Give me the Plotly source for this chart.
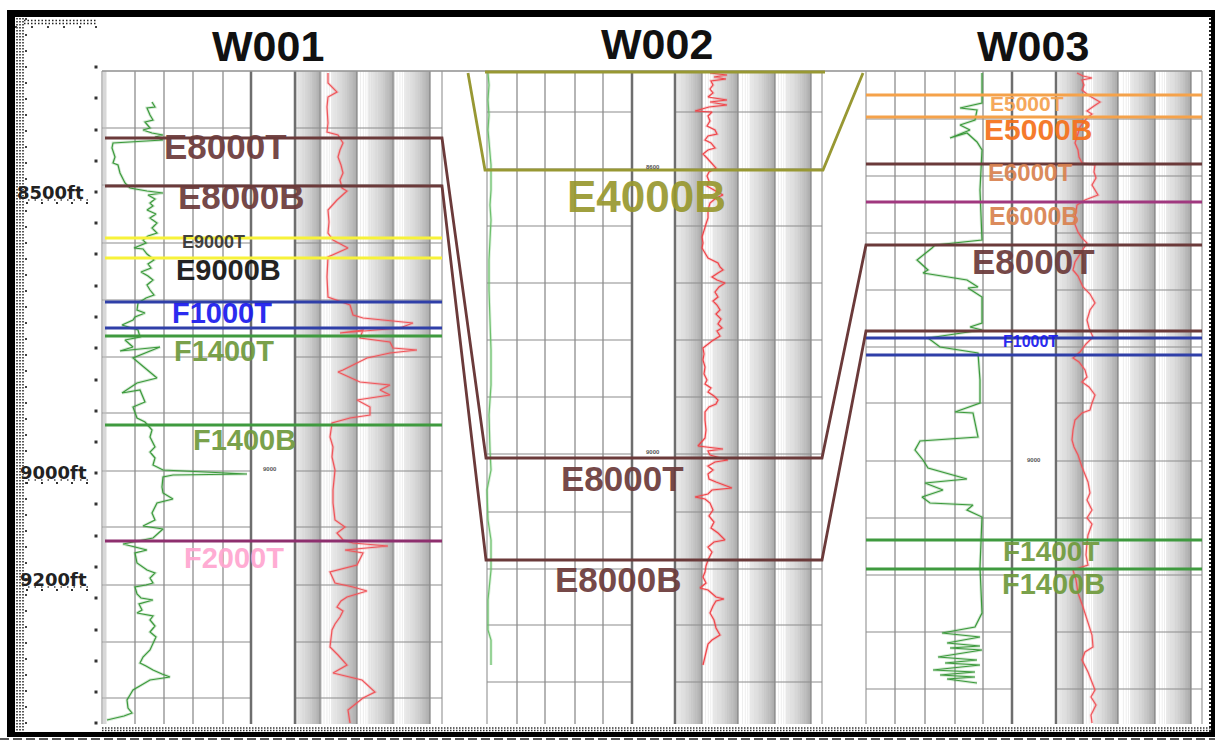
import math
import plotly.graph_objects as go

# ---------- data: log samples as (value position, depth position)
w001_gr = [(152,102),(155,107),(147,108),(150,115),(153,120),(145,122),(150,128),(143,130),(152,133),(163,135),(155,137),(163,140),(113,143),(112,148),(115,157),(113,163),(118,165),(120,173),(125,183),(130,188),(147,191),(163,193),(148,195),(155,199),(150,203),(153,206),(147,210),(156,214),(150,218),(157,223),(152,228),(157,233),(148,236),(143,240),(146,243),(134,248),(143,249),(147,254),(152,258),(154,260),(148,264),(151,268),(141,272),(148,276),(153,280),(147,285),(150,290),(154,295),(146,298),(143,300),(138,303),(137,310),(145,313),(135,317),(133,320),(122,325),(138,330),(140,337),(125,340),(133,347),(120,351),(160,347),(133,358),(145,368),
(157,378),(137,383),(122,393),(140,390),(145,402),(133,407),(137,418),(145,422),(152,430),(150,437),(155,447),(150,452),(155,458),(153,465),(163,470),(247,474),(173,475),(163,477),(162,487),(163,493),(173,499),(157,503),(152,513),(155,520),(143,526),(163,529),(153,538),(123,544),(147,550),(135,553),(137,563),(147,570),(155,573),(150,578),(153,583),(146,585),(135,587),(137,594),(141,598),(153,600),(139,604),(142,610),(137,613),(153,616),(150,620),(155,626),(150,632),(156,637),(153,643),(150,650),(143,657),(140,663),(146,666),(153,670),(162,674),(170,677),(150,680),(143,684),(133,690),(130,695),(127,700),(128,708),(132,713),(124,716),(107,720)]
w001_res = [(328,73),(328,83),(337,92),(328,97),(327,107),(328,123),(327,132),(338,135),(343,143),(340,150),(338,157),(341,165),(343,173),(340,180),(342,188),(347,191),(337,200),(328,210),(329,222),(328,233),(333,240),(348,248),(328,257),(327,277),(328,297),(350,305),(353,315),(363,318),(413,323),(400,328),(340,333),(363,330),(360,338),(390,342),(393,348),(417,350),(390,353),(367,358),(343,370),
(338,372),(360,382),(390,385),(380,390),(390,395),(357,400),(370,407),(370,415),(350,418),(332,423),(330,437),(333,447),(332,457),(335,470),(333,490),(333,503),(335,520),(345,527),(337,533),(343,540),(353,543),(388,546),(345,550),(363,553),(357,565),(330,572),(335,583),(353,587),(367,591),(347,597),(341,601),(337,607),(343,611),(340,617),(335,624),(332,630),(330,647),(338,655),(347,665),(333,673),(362,680),(375,692),(363,698),(348,710),(350,723)]
w002_gr = [(488,73),(489,85),(488,100),(489,115),(488,130),(490,150),(491,165),(491,190),(490,205),(491,220),(489,260),(489,290),(490,320),(491,350),(491,385),(490,400),(489,415),(490,450),(491,470),(487,490),(488,520),(491,540),(491,570),(488,600),(488,630),(491,640),(491,665)]
w002_res = [(710,73),(727,75),(714,77),(726,79),(711,81),(713,85),(710,89),(713,93),(708,97),(727,100),(710,102),(727,105),(709,107),(695,111),(712,112),(708,116),(710,121),(707,126),(715,130),(717,134),(708,136),(705,140),(711,143),(715,148),(708,150),(703,154),(707,158),(712,163),(716,168),(709,172),(707,176),(709,181),(707,186),(714,190),(723,195),(716,198),(710,203),(708,210),(708,218),(706,224),(704,230),(702,237),(703,243),(702,248),(705,253),(708,258),(712,260),(718,263),(720,267),(723,270),(718,273),(712,277),(717,280),(725,283),(719,287),(715,292),(718,297),(713,301),(717,305),(720,310),(716,314),(721,319),(718,324),(722,328),(717,331),(720,336),(712,341),(703,348),(704,354),(703,360),(705,367),(704,374),(707,380),
(705,384),(711,388),(708,392),(714,396),(718,400),(716,404),(709,407),(705,412),(705,420),(706,430),(705,438),(698,446),(706,447),(723,449),(708,451),(710,455),(728,460),(715,462),(708,466),(713,470),(708,474),(709,479),(716,482),(732,488),(712,490),(708,494),(695,497),(705,499),(710,503),(713,510),(709,516),(714,522),(711,528),(718,533),(725,540),(714,542),(708,547),(712,552),(708,560),(706,566),(705,572),(703,577),(706,583),(700,588),(708,590),(712,594),(716,597),(724,599),(716,601),(713,606),(710,613),(714,620),(716,628),(720,635),(712,640),(708,644),(706,652),(704,658),(703,665)]
w003_gr = [(982,73),(982,103),(960,108),(977,110),(975,120),(960,125),(970,130),(950,138),(967,133),(977,142),(982,150),(980,190),(982,240),(935,245),(932,248),(917,260),(928,270),(923,273),(967,280),(978,287),(968,288),(982,297),(982,323),(970,327),(982,330),(928,338),(940,347),(978,353),(980,380),
(980,403),(955,412),(973,413),(978,437),(920,441),(915,450),(923,460),(928,468),(953,475),(967,479),(925,483),(943,490),(922,497),(930,503),(973,505),(967,510),(982,517),(980,567),(982,613),(975,627),(942,633),(980,637),(947,643),(980,646),(950,648),(982,650),(938,657),(977,660),(945,663),(980,665),(933,670),(975,672),(940,675),(975,677),(947,679),(977,683)]
w003_res = [(1077,73),(1083,76),(1092,78),(1082,80),(1084,85),(1082,90),(1088,95),(1100,102),(1094,106),(1087,111),(1092,114),(1087,118),(1080,127),(1078,133),(1075,143),(1078,150),(1079,157),(1082,163),(1095,165),(1094,172),(1096,178),(1092,185),(1098,195),(1085,200),(1077,205),(1076,212),(1074,222),(1078,232),(1082,238),(1087,243),(1084,248),(1079,255),(1075,262),(1073,270),(1078,276),(1083,287),(1090,294),(1095,303),(1090,310),(1087,320),(1089,328),(1093,337),(1086,344),(1080,352),(1073,358),(1079,362),(1085,370),(1087,377),
(1082,382),(1089,387),(1095,395),(1092,403),(1090,410),(1082,413),(1075,420),(1073,430),(1072,440),(1074,447),(1078,455),(1082,467),(1085,475),(1088,482),(1090,493),(1087,500),(1092,510),(1087,518),(1092,524),(1088,535),(1087,543),(1086,555),(1088,565),(1073,570),(1076,580),(1078,593),(1083,607),(1087,620),(1092,635),(1093,647),(1085,652),(1082,660),(1088,672),(1095,690),(1091,697),(1096,705),(1091,715),(1092,723)]

wells = ["W001", "W002", "W003"]
well_label_x = [268, 657, 1033]
well_label_y = [46, 44, 46]

tops = [
    (105, 442, 238, "#f7f23a"), (105, 442, 258, "#f7f23a"),
    (105, 442, 302, "#2f3fa8"), (105, 442, 328, "#2f3fa8"),
    (105, 442, 336, "#3f9a3f"), (105, 442, 425, "#3f9a3f"),
    (105, 442, 541, "#8e2f6e"),
    (866, 1202, 95, "#f5a24a"), (866, 1202, 117, "#f5a24a"),
    (866, 1202, 164, "#6b3a3a"), (866, 1202, 202, "#a0387f"),
    (866, 1202, 338, "#2f3fa8"), (866, 1202, 355, "#2f3fa8"),
    (866, 1202, 540, "#3f9a3f"), (866, 1202, 569, "#3f9a3f"),
]
correlations = [
    ([105, 442, 486, 822, 866, 1202], [138, 138, 458, 458, 245, 245], "#6b3a3a"),
    ([105, 442, 486, 822, 866, 1202], [186, 186, 560, 560, 331, 331], "#6b3a3a"),
    ([468, 485, 823, 863], [73, 170, 170, 73], "#989833"),
    ([485, 825], [72, 72], "#989833"),
]
labels = [
    ("E8000T", 225, 146, 35, "#6b3a3a"), ("E8000B", 241, 196, 35, "#6b3a3a"),
    ("E9000T", 213, 242, 18, "#333333"), ("E9000B", 228, 270, 29, "#111111"),
    ("F1000T", 222, 313, 29, "#1a1aee"), ("F1400T", 224, 351, 29, "#6f9a3c"),
    ("F1400B", 244, 440, 29, "#6f9a3c"), ("F2000T", 234, 558, 29, "#ffa6d0"),
    ("E4000B", 646, 196, 44, "#98982f"), ("E8000T", 622, 478, 35, "#6b3a3a"),
    ("E8000B", 618, 579, 35, "#6b3a3a"),
    ("E5000T", 1027, 103, 21, "#f5a14e"), ("E5000B", 1038, 129, 30, "#f5701a"),
    ("E6000T", 1030, 172, 24, "#d9824f"), ("E6000B", 1034, 216, 25, "#d9824f"),
    ("E8000T", 1033, 261, 35, "#6b3a3a"), ("F1000T", 1030, 341, 16, "#1a1aee"),
    ("F1400T", 1051, 551, 28, "#6f9a3c"), ("F1400B", 1053, 584, 29, "#6f9a3c"),
]
depth_labels = [("8500ft", 50, 192), ("9000ft", 53, 472), ("9200ft", 53, 579)]
depth_ticks = [67, 98, 130, 161, 192, 223, 254, 286, 317, 348, 380, 411, 442, 473, 504, 536, 567, 598, 630, 661, 692, 723]
small_labels = [("9000", 270, 469), ("8600", 653, 167), ("9000", 653, 452), ("9000", 1034, 460)]

track_left = [102, 487, 866]
track_linear = [[135, 164, 193, 223], [517, 545, 575, 603], [895, 925, 955, 983]]
track_dark = [(251, 295), (632, 675), (1012, 1056)]
track_right = [442, 822, 1202]
track_decades = [[320.5, 357, 393.5, 430], [702, 738, 775, 811], [1083, 1118, 1155, 1191]]
track_rows = [
    [128, 185, 243, 300, 357, 413, 471, 527, 585, 642, 698],
    [112, 169, 226, 283, 340, 397, 454, 512, 569, 625, 682],
    [119, 176, 233, 290, 347, 403, 461, 518, 575, 632, 689],
]
# log paper: a ruling at each mantissa of the decade
paper_mantissas = [1.25, 1.5, 1.75] + [m / 10 for m in range(20, 100)]
TOP, BOTTOM = 71, 724

fig = go.Figure()


def segs(pairs, color, width, dash=None):
    xs, ys = [], []
    for (x0, y0, x1, y1) in pairs:
        xs += [x0, x1, None]
        ys += [y0, y1, None]
    fig.add_trace(go.Scatter(x=xs, y=ys, mode="lines", hoverinfo="skip",
                             line=dict(color=color, width=width, dash=dash)))


for i in range(3):
    dec_w = track_decades[i][1] - track_decades[i][0]
    dl, dr = track_dark[i]
    v = []
    for end in track_decades[i]:
        for k in paper_mantissas:
            x = end - dec_w * (1 - math.log10(k))
            if x > dr:
                v.append((x, TOP, x, BOTTOM))
    segs(v, "rgba(90,90,90,0.10)", 1)
    segs([(end, TOP, end, BOTTOM) for end in track_decades[i]], "rgba(100,100,100,0.45)", 2)
    segs([(x, TOP, x, BOTTOM) for x in track_linear[i]], "rgba(150,150,150,0.7)", 2)
    segs([(track_left[i], TOP, track_left[i], BOTTOM), (track_right[i], TOP, track_right[i], BOTTOM)], "rgba(170,170,170,0.7)", 2)
    h = []
    for y in track_rows[i]:
        h.append((track_left[i], y, dl, y))
        h.append((dr, y, track_right[i], y))
    segs(h, "rgba(140,140,140,0.5)", 2)
    segs([(dl, TOP, dl, BOTTOM), (dr, TOP, dr, BOTTOM)], "#6e6e6e", 2.5)

segs([(104.5, TOP, 104.5, BOTTOM)], "rgba(190,190,190,0.6)", 4)
segs([(102, TOP, 1202, TOP)], "rgba(150,150,150,0.8)", 2)

for arr, col, halo in [(w001_gr, "#3c9a3c", "rgba(60,154,60,0.22)"), (w002_gr, "#6cc06c", "rgba(108,192,108,0.25)"),
                       (w003_gr, "#3c9a3c", "rgba(60,154,60,0.22)"),
                       (w001_res, "#f0555a", "rgba(240,85,90,0.22)"), (w002_res, "#f0454a", "rgba(240,69,74,0.22)"),
                       (w003_res, "#f0555a", "rgba(240,85,90,0.22)")]:
    xs, ys = [p[0] for p in arr], [p[1] for p in arr]
    fig.add_trace(go.Scatter(x=xs, y=ys, mode="lines", hoverinfo="skip", line=dict(color=halo, width=3)))
    fig.add_trace(go.Scatter(x=xs, y=ys, mode="lines", hoverinfo="skip", line=dict(color=col, width=1.2)))

for x0, x1, y, col in tops:
    segs([(x0, y, x1, y)], col, 3)
for xs, ys, col in correlations:
    fig.add_trace(go.Scatter(x=xs, y=ys, mode="lines", hoverinfo="skip", line=dict(color=col, width=2.8)))

# frame decoration
segs([(17, 18, 17, 732), (20, 18, 20, 732), (23, 18, 23, 732)], "#222222", 1.5, "1.5px,1.5px")
segs([(24, 20.5, 97, 20.5), (24, 23.5, 97, 23.5)], "#222222", 1.5, "1.5px,2px")
segs([(26, 18, 26, 732)], "#444444", 2, "2px,14px")
segs([(15, 27, 97, 27)], "#444444", 2, "2px,14px")
segs([(102, 728, 1211, 728), (102, 730.5, 1211, 730.5)], "#333333", 1.5, "1.5px,1.5px")
segs([(1210, 18, 1210, 732)], "#222222", 2, "2px,2px")
segs([(0, 739, 1215, 739)], "#222222", 1.5, "9px,4px")
for _, x, y in depth_labels:
    segs([(26, y + 11, 90, y + 11)], "#333333", 2, "2px,13px")
    segs([(28, y + 8, 90, y + 8)], "#444444", 1.5, "1.5px,5px")
fig.add_trace(go.Scatter(x=[96] * len(depth_ticks), y=depth_ticks, mode="markers", hoverinfo="skip",
                         marker=dict(color="#333333", size=3, symbol="square")))

ann = []
for name, x, y in zip(wells, well_label_x, well_label_y):
    ann.append(dict(text=f"<b>{name}</b>", x=x, y=y, font=dict(size=43, color="#111111", family="Liberation Sans")))
for t, x, y, s, c in labels:
    ann.append(dict(text=f"<b>{t}</b>", x=x, y=y, font=dict(size=s, color=c, family="Liberation Sans"), opacity=0.92))
for t, x, y in depth_labels:
    ann.append(dict(text=f"<b>{t}</b>", x=x, y=y, font=dict(size=18, color="#222222", family="DejaVu Sans")))
for t, x, y in small_labels:
    ann.append(dict(text=f"<b>{t}</b>", x=x, y=y, font=dict(size=6, color="#555555", family="Liberation Sans")))
for a in ann:
    a.update(xref="x", yref="y", showarrow=False, xanchor="center", yanchor="middle")

fig.update_layout(
    width=1215, height=740, margin=dict(l=0, r=0, t=0, b=0),
    paper_bgcolor="white", plot_bgcolor="white", showlegend=False,
    xaxis=dict(range=[0, 1215], visible=False, fixedrange=True),
    yaxis=dict(range=[740, 0], visible=False, fixedrange=True),
    annotations=ann,
    shapes=[
        dict(type="rect", xref="x", yref="y", x0=7, x1=1215, y0=10, y1=17, fillcolor="black", line_width=0),
        dict(type="rect", xref="x", yref="y", x0=7, x1=15, y0=10, y1=737, fillcolor="black", line_width=0),
        dict(type="rect", xref="x", yref="y", x0=7, x1=1215, y0=732, y1=737, fillcolor="black", line_width=0),
        dict(type="rect", xref="x", yref="y", x0=1211, x1=1215, y0=10, y1=737, fillcolor="black", line_width=0),
    ],
)
fig.write_html("out.html", config=dict(displayModeBar=False),
               post_script="document.body.style.margin='0';document.documentElement.style.overflow='hidden';")
